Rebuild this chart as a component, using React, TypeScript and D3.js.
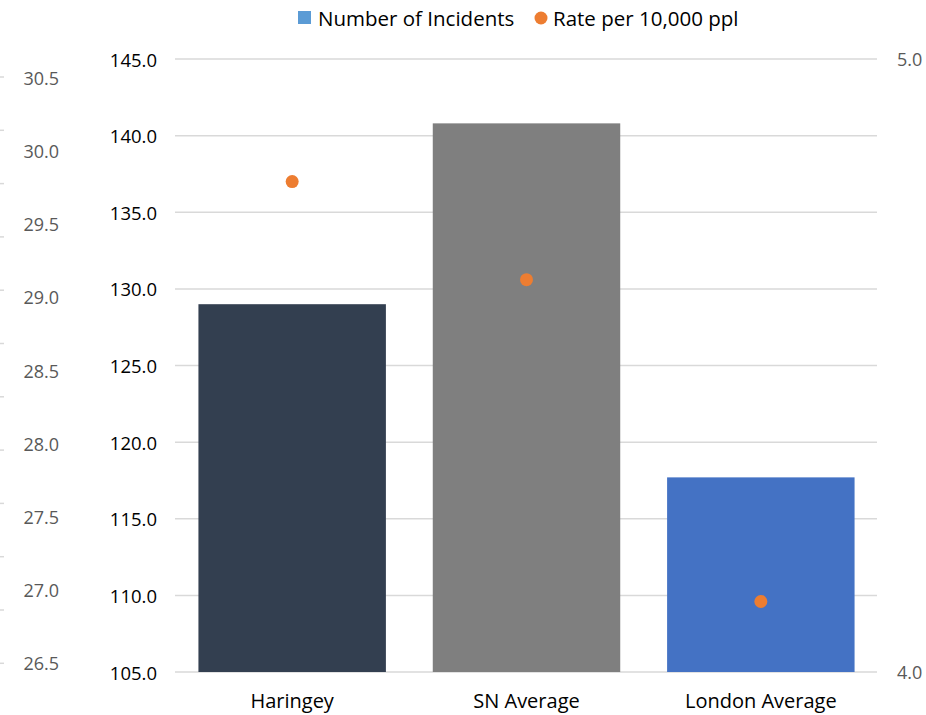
import React from "react";
import * as d3 from "d3";

const categories = ["Haringey", "SN Average", "London Average"];
const incidents = [129.0, 140.8, 117.7];
const rates = [4.8, 4.64, 4.115];
const barColors = ["#333F50", "#7F7F7F", "#4472C4"];
const leftTicks = [105, 110, 115, 120, 125, 130, 135, 140, 145];
const rightTicks = [4.0, 5.0];
const outerTicks = [26.5, 27.0, 27.5, 28.0, 28.5, 29.0, 29.5, 30.0, 30.5];

const W = 926;
const H = 715;
const FONT = "'Open Sans', 'Liberation Sans', Arial, sans-serif";

export default function App() {
  const x = d3.scaleBand<string>().domain(categories).range([175, 878]).paddingInner(0.2).paddingOuter(0.1);
  const yL = d3.scaleLinear().domain([105, 145]).range([672, 59]);
  const yR = d3.scaleLinear().domain([4, 5]).range([672, 59]);
  const yO = d3.scaleLinear().domain([26.5, 30.5]).range([663, 78]);
  const stubs = d3.range(12).map((i) => 77 + i * 53.3);

  return (
    <svg width={W} height={H} style={{ position: "absolute", left: 0, top: 0, background: "#fff" }} fontFamily={FONT}>
      {/* outer left stub ticks */}
      {stubs.map((y, i) => (
        <line key={"s" + i} x1={0} x2={4} y1={y} y2={y} stroke="#D9D9D9" strokeWidth={1.5} />
      ))}
      {/* outer left labels */}
      {outerTicks.map((t) => (
        <text key={"o" + t} x={59} y={yO(t)} textAnchor="end" dominantBaseline="central" fontSize={18} fill="#595959">
          {t.toFixed(1)}
        </text>
      ))}
      {/* gridlines */}
      {leftTicks.map((t) => (
        <line key={"g" + t} x1={175} x2={877} y1={yL(t)} y2={yL(t)} stroke="#D9D9D9" strokeWidth={1.5} />
      ))}
      {/* left axis labels */}
      {leftTicks.map((t) => (
        <text key={"l" + t} x={157} y={yL(t)} textAnchor="end" dominantBaseline="central" fontSize={18.5} fill="#000">
          {t.toFixed(1)}
        </text>
      ))}
      {/* right axis labels */}
      {rightTicks.map((t) => (
        <text key={"r" + t} x={897} y={yR(t)} textAnchor="start" dominantBaseline="central" fontSize={18} fill="#595959">
          {t.toFixed(1)}
        </text>
      ))}
      {/* bars */}
      {categories.map((c, i) => (
        <rect
          key={"b" + c}
          x={x(c)}
          y={yL(incidents[i])}
          width={x.bandwidth()}
          height={yL(105) - yL(incidents[i])}
          fill={barColors[i]}
        />
      ))}
      {/* dots */}
      {categories.map((c, i) => (
        <circle key={"d" + c} cx={(x(c) as number) + x.bandwidth() / 2} cy={yR(rates[i])} r={6.5} fill="#ED7D31" />
      ))}
      {/* category labels */}
      {categories.map((c) => (
        <text key={"c" + c} x={(x(c) as number) + x.bandwidth() / 2} y={700} textAnchor="middle" dominantBaseline="central" fontSize={20} fill="#000">
          {c}
        </text>
      ))}
      {/* legend */}
      <rect x={298} y={11} width={13} height={13} fill="#5B9BD5" />
      <text x={318} y={18} dominantBaseline="central" fontSize={20.5} fill="#000">Number of Incidents</text>
      <circle cx={541} cy={18} r={6.5} fill="#ED7D31" />
      <text x={553} y={18} dominantBaseline="central" fontSize={20.5} fill="#000">Rate per 10,000 ppl</text>
    </svg>
  );
}
